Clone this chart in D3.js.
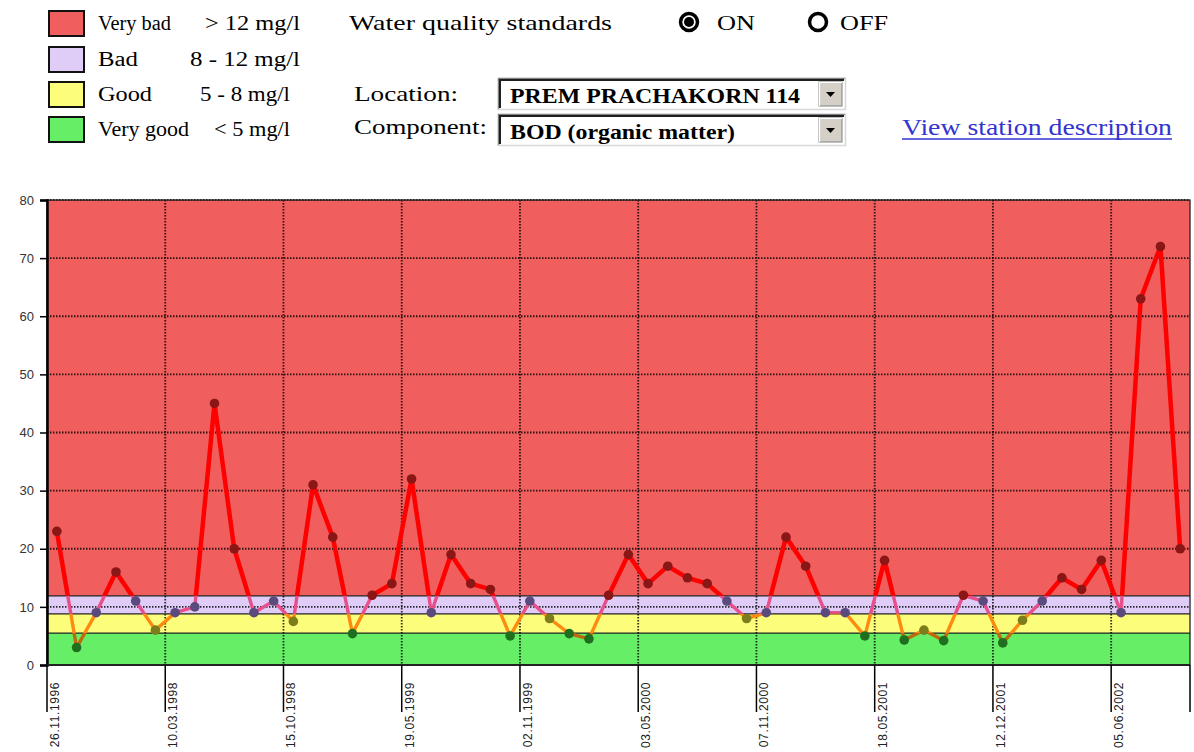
<!DOCTYPE html>
<html>
<head>
<meta charset="utf-8">
<script src="https://cdn.jsdelivr.net/npm/d3@7"></script>
<style>
html,body{margin:0;padding:0;background:#fff;overflow:hidden;}
svg{display:block;}
</style>
</head>
<body>
<svg id="chart" width="1194" height="752"></svg>
<script>
// ---- data ----
const values = [23,3,9,16,11,6,9,10,45,20, 9,11,7.5,31,22,5.4,12,14,32,9,
                19,14,13,5,11,8,5.4,4.5,12,19, 14,17,15,14,11,8,9,22,17,9,
                9,5,18,4.3,6,4.2,12,11,3.8,7.7, 11,15,13,18,9,63,72,20];
const tickLabels = ["26.11.1996","10.03.1998","15.10.1998","19.05.1999","02.11.1999",
                    "03.05.2000","07.11.2000","18.05.2001","12.12.2001","05.06.2002"];
const tickEvery = 6;
const yTicks = [0,10,20,30,40,50,60,70,80];
const zoneNames = ["Very good","Good","Bad","Very bad"];
const zoneRanges = ["< 5 mg/l","5 - 8 mg/l","8 - 12 mg/l","> 12 mg/l"];
const zoneBounds = [0, 5.5, 8.8, 11.9, 80];
const zoneFill = ["#66ee66","#fdfd7c","#dfcdf8","#f05e5e"];
const zoneLine = ["#c0680c","#ff8a10","#e8508c","#ff0000"];
const zoneMarker = ["#1f6f1f","#7d7d1c","#5a4a7e","#8a1616"];
const locationName = "PREM PRACHAKORN 114";
const componentName = "BOD (organic matter)";

const svg = d3.select("#chart");
const L = 47, R = 1190, T = 200, B = 665;

const x = d3.scaleBand().domain(d3.range(values.length)).range([L, R]).padding(0);
const y = d3.scaleLinear().domain([0, 80]).range([B, T]);

// ---- bands ----
const zones = d3.range(4).map(i => ({i, lo: zoneBounds[i], hi: zoneBounds[i+1]}));
const defs = svg.append("defs");
zones.forEach(z => {
  defs.append("clipPath").attr("id", "clip" + z.i)
    .append("rect").attr("x", L).attr("width", R - L)
    .attr("y", y(z.hi)).attr("height", y(z.lo) - y(z.hi));
});
svg.append("g").selectAll("rect").data(zones).join("rect")
  .attr("x", L).attr("width", R - L)
  .attr("y", d => y(d.hi)).attr("height", d => y(d.lo) - y(d.hi))
  .attr("fill", d => zoneFill[d.i]);

svg.append("g").selectAll("line").data(zoneBounds.slice(1, 4)).join("line")
  .attr("x1", L).attr("x2", R).attr("y1", d => y(d)).attr("y2", d => y(d))
  .attr("stroke", "#222").attr("stroke-width", 1.3);

// ---- grid ----
const tickIdx = d3.range(0, values.length, tickEvery);
svg.append("g").selectAll("line").data(yTicks.slice(1)).join("line")
  .attr("x1", L).attr("x2", R).attr("y1", d => y(d)).attr("y2", d => y(d))
  .attr("stroke", "#000").attr("stroke-width", 1.8).attr("stroke-dasharray", "1.5,1.5").attr("opacity", 0.8);
svg.append("g").selectAll("line").data(tickIdx.slice(1)).join("line")
  .attr("x1", d => x(d)).attr("x2", d => x(d)).attr("y1", T).attr("y2", B)
  .attr("stroke", "#000").attr("stroke-width", 1.8).attr("stroke-dasharray", "1.5,1.5").attr("opacity", 0.8);

// ---- line, clipped per zone ----
const line = d3.line().x((d, i) => x(i) + x.bandwidth() / 2).y(d => y(d));
zones.forEach(z => {
  svg.append("path").datum(values)
    .attr("clip-path", "url(#clip" + z.i + ")")
    .attr("d", line).attr("fill", "none")
    .attr("stroke", zoneLine[z.i]).attr("stroke-width", z.i === 3 ? 4.5 : 3.4)
    .attr("stroke-linejoin", "round");
});

const zoneOf = v => { for (let i = 0; i < 4; i++) if (v <= zoneBounds[i+1]) return i; return 3; };
svg.append("g").selectAll("circle").data(values).join("circle")
  .attr("cx", (d, i) => x(i) + x.bandwidth() / 2).attr("cy", d => y(d))
  .attr("r", 4.8).attr("fill", d => zoneMarker[zoneOf(d)]);

// ---- frame ----
svg.append("rect").attr("x", L).attr("y", T).attr("width", R - L).attr("height", B - T)
  .attr("fill", "none").attr("stroke", "#222").attr("stroke-width", 1.3);

// ---- y axis ----
const yAxis = svg.append("g").attr("transform", `translate(${L},0)`)
  .call(d3.axisLeft(y).tickValues(yTicks).tickSize(7).tickPadding(6).tickFormat(d3.format("d")));
yAxis.select(".domain").attr("stroke", "#000").attr("stroke-width", 2.5);
yAxis.selectAll(".tick line").attr("stroke", "#000").attr("stroke-width", 1.5);
yAxis.selectAll(".tick text").attr("font-family", "Liberation Sans, Arial, sans-serif")
  .attr("font-size", 13).attr("fill", "#333");

// ---- x axis ----
svg.append("line").attr("x1", L).attr("x2", R).attr("y1", B).attr("y2", B)
  .attr("stroke", "#222").attr("stroke-width", 2);
const xt = svg.append("g").selectAll("g").data(tickIdx).join("g")
  .attr("transform", d => `translate(${x(d)},0)`);
xt.append("line").attr("y1", B).attr("y2", 712).attr("stroke", "#000").attr("stroke-width", 1.5);
xt.append("text")
  .attr("transform", `translate(12,682) rotate(-90)`)
  .attr("text-anchor", "end")
  .attr("font-family", "Liberation Sans, Arial, sans-serif")
  .attr("font-size", 12).attr("letter-spacing", 0.6).attr("fill", "#222")
  .text((d, i) => tickLabels[i]);
svg.append("line").attr("x1", R).attr("x2", R).attr("y1", B).attr("y2", 712)
  .attr("stroke", "#000").attr("stroke-width", 1.5);

// ---- helper for stretched serif text ----
const serif = "Liberation Serif, Times New Roman, serif";
function txt(xp, yp, s, len, size, opts = {}) {
  const t = svg.append("text").attr("x", xp).attr("y", yp).attr("font-family", serif)
    .attr("font-size", size).attr("fill", opts.fill || "#000").text(s);
  if (opts.bold) t.attr("font-weight", "bold");
  if (len) t.attr("textLength", len).attr("lengthAdjust", "spacingAndGlyphs");
  return t;
}

// ---- legend ----
const legendOrder = [3, 2, 1, 0];
const legendY = [11, 47, 82, 117];
const nameW = [73, 40, 54, 91];
const rangeX = [205, 190, 200, 214];
const rangeW = [95, 110, 90, 76];
legendOrder.forEach((zi, k) => {
  svg.append("rect").attr("x", 49).attr("y", legendY[k]).attr("width", 35).attr("height", 25)
    .attr("fill", zoneFill[zi]).attr("stroke", "#111").attr("stroke-width", 2);
  txt(98, legendY[k] + 19, zoneNames[zi], nameW[k], 20);
  txt(rangeX[k], legendY[k] + 19, zoneRanges[zi], rangeW[k], 20);
});

// ---- controls ----
txt(349, 30, "Water quality standards", 263, 22);
svg.append("circle").attr("cx", 689).attr("cy", 22).attr("r", 8.5).attr("fill", "#fff")
  .attr("stroke", "#000").attr("stroke-width", 3.5);
svg.append("circle").attr("cx", 689).attr("cy", 22).attr("r", 5).attr("fill", "#000");
txt(717, 30, "ON", 38, 22);
svg.append("circle").attr("cx", 818).attr("cy", 22).attr("r", 8.5).attr("fill", "#fff")
  .attr("stroke", "#000").attr("stroke-width", 3.5);
txt(840, 30, "OFF", 48, 22);

txt(354, 101, "Location:", 104, 22);
txt(354, 134, "Component:", 133, 22);

function selectBox(yTop, label, w) {
  const g = svg.append("g");
  const x0 = 498, bw = 348, h = 32;
  g.append("rect").attr("x", x0).attr("y", yTop).attr("width", bw).attr("height", h).attr("fill", "#fff");
  g.append("path").attr("d", `M${x0+0.5},${yTop+h}V${yTop+0.5}H${x0+bw}`).attr("fill", "none").attr("stroke", "#808080").attr("stroke-width", 1.5);
  g.append("path").attr("d", `M${x0+2},${yTop+h-2}V${yTop+2}H${x0+bw-2}`).attr("fill", "none").attr("stroke", "#202020").attr("stroke-width", 2);
  g.append("path").attr("d", `M${x0},${yTop+h-0.5}H${x0+bw-0.5}V${yTop}`).attr("fill", "none").attr("stroke", "#d8d8d8").attr("stroke-width", 1.5);
  g.append("rect").attr("x", x0 + 321).attr("y", yTop + 4).attr("width", 23).attr("height", h - 8)
    .attr("fill", "#d4d0c8").attr("stroke", "#808080").attr("stroke-width", 1);
  g.append("path").attr("d", `M${x0+321.5},${yTop+h-4}V${yTop+4.5}H${x0+344}`).attr("fill", "none").attr("stroke", "#fff").attr("stroke-width", 1.2);
  g.append("path").attr("d", `M${x0+328},${yTop+14}h9l-4.5,5z`).attr("fill", "#000");
  txt(x0 + 12, yTop + 25, label, w, 20, {bold: true});
}
selectBox(78, locationName, 290);
selectBox(114, componentName, 225);

txt(902, 135, "View station description", 270, 23, {fill: "#3333d0"});
svg.append("line").attr("x1", 902).attr("x2", 1172).attr("y1", 139).attr("y2", 139)
  .attr("stroke", "#3333d0").attr("stroke-width", 1.5);
</script>
</body>
</html>
